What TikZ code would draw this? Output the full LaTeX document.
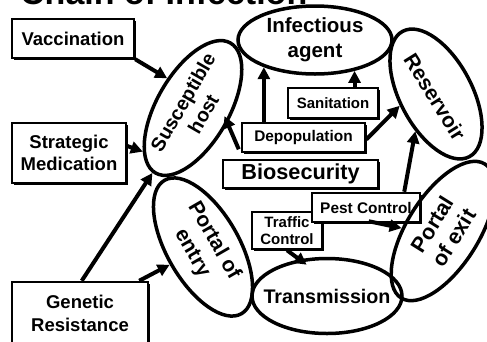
\documentclass[tikz,border=0pt]{standalone}
\usepackage{fontspec}
\setmainfont{Liberation Sans}
\usetikzlibrary{shapes.geometric,arrows.meta,calc,shadows}
\newcommand{\setfs}[2]{\bfseries\fontsize{#1}{#2}\selectfont}
\begin{document}
\begin{tikzpicture}[x=1pt,y=-1pt,
  box/.style={draw, line width=2.5pt, fill=white, inner sep=0pt, align=center,
    drop shadow={shadow xshift=1.5pt,shadow yshift=-1.5pt,fill=black,opacity=1}},
  ell/.style={draw, ellipse, line width=3.5pt, inner sep=0pt},
  lbl/.style={align=center, inner sep=0pt},
  arr/.style={line width=4pt, -{Triangle[length=12pt,width=12pt]}}]
\useasboundingbox (0,0) rectangle (487,341);
\fill[white] (0,0) rectangle (487,341);

\node[anchor=base west, inner sep=0pt, font=\setfs{34}{34}] (title) at (20,4.5) {Chain of Infection};

% boxes
\node[box, minimum width=122pt, minimum height=39pt, font=\setfs{18.5}{22}] (vacc) at (73,38.5) {Vaccination};
\node[box, minimum width=114pt, minimum height=60pt, font=\setfs{18.5}{22.5}] (strat) at (69,153) {Strategic\\Medication};
\node[box, minimum width=136pt, minimum height=63pt, font=\setfs{18.5}{22.5}] (gen) at (80,313.5) {Genetic\\Resistance};
\node[box, minimum width=90pt, minimum height=30pt, font=\setfs{15}{18}] (san) at (333,103) {Sanitation};
\node[box, minimum width=123pt, minimum height=29pt, font=\setfs{15.4}{18}] (dep) at (303.5,137.5) {Depopulation};
\node[box, minimum width=155pt, minimum height=28pt, font=\setfs{21.7}{24}] (bio) at (300.5,174) {Biosecurity};
\node[box, minimum width=70pt, minimum height=37pt, font=\setfs{15}{17}] (traf) at (287,230.5) {Traffic\\Control};
\node[box, minimum width=108pt, minimum height=29pt, font=\setfs{15.4}{18}] (pest) at (366,207.5) {Pest Control};

% ellipses
\node[ell, minimum width=154pt, minimum height=68pt] (inf) at (315,40) {};
\node[ell, minimum width=150pt, minimum height=72pt, rotate=60] (sus) at (193,108) {};
\node[ell, minimum width=142pt, minimum height=72pt, rotate=-62] (res) at (436,94) {};
\node[ell, minimum width=158pt, minimum height=72pt, rotate=58] (exit) at (443,231) {};
\node[ell, minimum width=150pt, minimum height=75pt] (trans) at (327,296) {};
\node[ell, minimum width=154pt, minimum height=72pt, rotate=-60] (entry) at (203,247) {};

% ellipse texts
\node[lbl, font=\setfs{20.5}{25}] (tinf) at (inf.center) {Infectious\\agent};
\node[lbl, font=\setfs{19.6}{23.5}, rotate=60] (tsus) at (sus.center) {Susceptible\\host};
\node[lbl, font=\setfs{21}{25}, rotate=-58] (tres) at (435,97) {Reservoir};
\node[lbl, font=\setfs{21.5}{25}, rotate=58] (texit) at (exit.center) {Portal\\of exit};
\node[lbl, font=\setfs{19.7}{24}] (ttrans) at (trans.center) {Transmission};
\node[lbl, font=\setfs{21}{25}, rotate=-60] (tentry) at (entry.center) {Portal of\\entry};

% arrows
\draw[arr] (vacc.south east) -- (sus.71);
\draw[arr] ($(strat.east)+(0,-7)$) -- (sus.161);
\draw[arr] ($(gen.north west)+(71,0)$) -- (sus.178);
\draw[arr] ($(gen.north east)+(-10,0)$) -- (entry.268);
\draw[arr, shorten >=-8pt] ($(dep.south west)+(-2,-4)$) -- (sus.276);
\draw[arr] (inf.208 |- dep.north) -- (inf.208);
\draw[arr] (inf.322 |- san.north) -- (inf.322);
\draw[arr] ($(dep.east)+(0,2)$) -- (res.260);
\draw[arr] ($(pest.north east)+(-17,0)$) -- (res.303);
\draw[arr] ($(pest.south west)+(58,-2)$) -- (exit.118);
\draw[arr, shorten >=-9pt] (traf.south) -- (trans.127);
\end{tikzpicture}
\end{document}
